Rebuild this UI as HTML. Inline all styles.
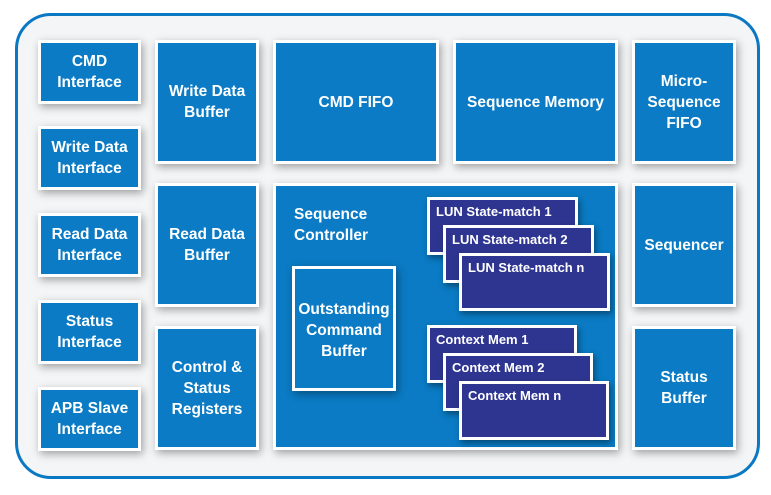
<!DOCTYPE html><html><head><style>
body{margin:0;width:771px;height:495px;background:#fff;position:relative;overflow:hidden;font-family:"Liberation Sans",sans-serif}
.outer{position:absolute;left:15px;top:13px;width:739px;height:460px;border:3px solid #0a78c2;border-radius:36px;background:#f4f5f6}
.b{position:absolute;box-sizing:border-box;background:#0a7bc4;border:3px solid #fff;box-shadow:2px 3px 8px rgba(0,0,0,.35);color:#fff;font-weight:bold;font-size:15.5px;line-height:21px;display:flex;align-items:center;justify-content:center;text-align:center}
.n{position:absolute;box-sizing:border-box;background:#2e3590;border:3px solid #fff;box-shadow:2px 3px 6px rgba(0,0,0,.4);color:#fff;font-weight:bold;font-size:13px;padding:4px 0 0 6px}
</style></head><body>
<div class="outer"></div>
<div class="b" style="left:38px;top:40px;width:103px;height:64px">CMD<br>Interface</div>
<div class="b" style="left:38px;top:126px;width:103px;height:64px">Write Data<br>Interface</div>
<div class="b" style="left:38px;top:213px;width:103px;height:64px">Read Data<br>Interface</div>
<div class="b" style="left:38px;top:300px;width:103px;height:64px">Status<br>Interface</div>
<div class="b" style="left:38px;top:387px;width:103px;height:64px">APB Slave<br>Interface</div>
<div class="b" style="left:155px;top:40px;width:104px;height:124px">Write Data<br>Buffer</div>
<div class="b" style="left:155px;top:183px;width:104px;height:124px">Read Data<br>Buffer</div>
<div class="b" style="left:155px;top:326px;width:104px;height:124px">Control &amp;<br>Status<br>Registers</div>
<div class="b" style="left:273px;top:40px;width:166px;height:124px">CMD FIFO</div>
<div class="b" style="left:453px;top:40px;width:165px;height:124px">Sequence Memory</div>
<div class="b" style="left:632px;top:40px;width:104px;height:124px">Micro-<br>Sequence<br>FIFO</div>
<div class="b" style="left:273px;top:183px;width:345px;height:267px;align-items:flex-start;justify-content:flex-start;text-align:left;padding:18px 0 0 18px">Sequence<br>Controller</div>
<div class="b" style="left:292px;top:266px;width:104px;height:125px;padding-top:4px">Outstanding<br>Command<br>Buffer</div>
<div class="n" style="left:427px;top:197px;width:151px;height:58px">LUN State-match 1</div>
<div class="n" style="left:443px;top:225px;width:151px;height:58px">LUN State-match 2</div>
<div class="n" style="left:459px;top:253px;width:151px;height:58px">LUN State-match n</div>
<div class="n" style="left:427px;top:325px;width:150px;height:58px">Context Mem 1</div>
<div class="n" style="left:443px;top:353px;width:150px;height:58px">Context Mem 2</div>
<div class="n" style="left:459px;top:381px;width:150px;height:59px">Context Mem n</div>
<div class="b" style="left:632px;top:183px;width:104px;height:124px">Sequencer</div>
<div class="b" style="left:632px;top:326px;width:104px;height:124px">Status<br>Buffer</div>
</body></html>
